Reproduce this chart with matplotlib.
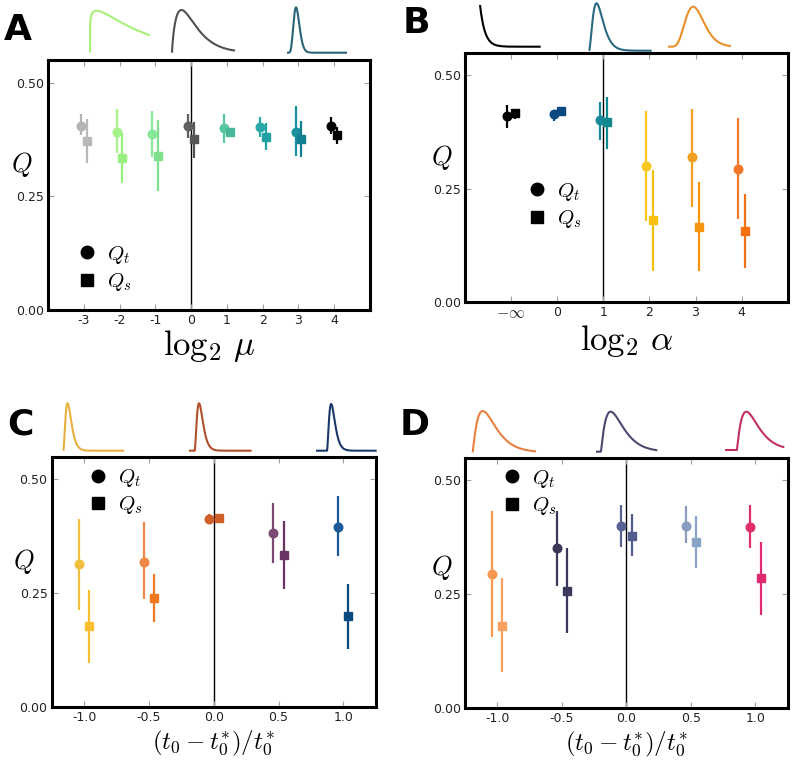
import matplotlib
matplotlib.use('Agg')
import matplotlib.pyplot as plt
import numpy as np
from matplotlib.lines import Line2D

plt.rcParams['mathtext.fontset'] = 'cm'
plt.rcParams['axes.unicode_minus'] = False
plt.rcParams['font.family'] = ['DejaVu Sans']

# ---------------- data ----------------
A_x = [-3, -2, -1, 0, 1, 2, 3, 4]
A_qt = [0.405, 0.392, 0.386, 0.404, 0.399, 0.402, 0.392, 0.404]
A_qt_lo = [0.385, 0.344, 0.337, 0.379, 0.367, 0.381, 0.338, 0.386]
A_qt_hi = [0.430, 0.443, 0.437, 0.431, 0.431, 0.425, 0.448, 0.425]
A_qs = [0.371, 0.334, 0.339, 0.375, 0.392, 0.381, 0.375, 0.384]
A_qs_lo = [0.322, 0.279, 0.262, 0.335, 0.385, 0.351, 0.337, 0.364]
A_qs_hi = [0.421, 0.388, 0.417, 0.414, 0.400, 0.412, 0.415, 0.403]
A_ticklabels = ['-3', '-2', '-1', '0', '1', '2', '3', '4']

B_x = [-1, 0, 1, 2, 3, 4]
B_qt = [0.411, 0.415, 0.401, 0.301, 0.320, 0.294]
B_qt_lo = [0.383, 0.400, 0.357, 0.180, 0.211, 0.183]
B_qt_hi = [0.434, 0.422, 0.442, 0.422, 0.427, 0.406]
B_qs = [0.417, 0.422, 0.397, 0.182, 0.166, 0.157]
B_qs_lo = [0.405, 0.412, 0.337, 0.070, 0.068, 0.075]
B_qs_hi = [0.425, 0.430, 0.453, 0.292, 0.266, 0.239]
B_ticklabels = [r'$-\infty$', '0', '1', '2', '3', '4']

C_x = [-1.0, -0.5, 0.0, 0.5, 1.0]
C_qt = [0.313, 0.319, 0.414, 0.382, 0.396]
C_qt_lo = [0.213, 0.238, 0.405, 0.317, 0.331]
C_qt_hi = [0.413, 0.406, 0.423, 0.448, 0.463]
C_qs = [0.177, 0.240, 0.415, 0.333, 0.199]
C_qs_lo = [0.097, 0.186, 0.405, 0.259, 0.128]
C_qs_hi = [0.257, 0.292, 0.425, 0.409, 0.270]

D_x = [-1.0, -0.5, 0.0, 0.5, 1.0]
D_qt = [0.294, 0.351, 0.400, 0.401, 0.399]
D_qt_lo = [0.156, 0.268, 0.354, 0.362, 0.352]
D_qt_hi = [0.434, 0.432, 0.446, 0.443, 0.447]
D_qs = [0.180, 0.257, 0.379, 0.366, 0.285]
D_qs_lo = [0.079, 0.165, 0.335, 0.309, 0.204]
D_qs_hi = [0.285, 0.351, 0.426, 0.423, 0.364]

CD_ticklabels = ['-1.0', '-0.5', '0.0', '0.5', '1.0']
Y_ticks = [0.0, 0.25, 0.5]
Y_ticklabels = ['0.00', '0.25', '0.50']

# inset distribution parameters (shape k, scale theta, shift) on a unit-width axis
A_ins = [(1.15, 0.733, 0.0), (1.8, 0.1875, 0.0), (10.0, 0.0167, 0.0)]
B_ins = [(1.0, 0.08, 0.0), (3.0, 0.06, 0.0), (8.0, 0.057, 0.0)]
C_ins = [(3.0, 0.035, 0.0), (3.0, 0.035, 0.09), (3.0, 0.035, 0.18)]
D_ins = [(2.1, 0.145, 0.0), (2.1, 0.145, 0.08), (2.1, 0.145, 0.20)]

# ---------------- styles ----------------
A_col_t = ['#b4b4b4', '#a6f28a', '#88e89a', '#606060', '#58c8a0', '#2aa8a8', '#1890a0', '#000000']
A_col_s = ['#b8b8b8', '#98f07e', '#7ee08e', '#555555', '#48b898', '#20a0a0', '#108090', '#000000']
B_col_t = ['#000000', '#0a4a80', '#1a8a9a', '#f8c820', '#f0a020', '#f07828']
B_col_s = ['#000000', '#0a4a80', '#108890', '#f8c010', '#f49410', '#f57010']
C_col_t = ['#f0c040', '#f08848', '#d06028', '#7a4a72', '#1a5a98']
C_col_s = ['#f8c030', '#f07820', '#d06028', '#6a3462', '#0a4880']
D_col_t = ['#f89850', '#3c3858', '#5a6494', '#8a9cc0', '#e0306c']
D_col_s = ['#f8a060', '#3a3a5c', '#505c8c', '#8aa4c8', '#e02a70']

A_ins_col = ['#a8f07a', '#505050', '#2a6478']
B_ins_col = ['#000000', '#2a6a80', '#e8902a']
C_ins_col = ['#e8b040', '#b0502a', '#1a3a6a']
D_ins_col = ['#e88040', '#4a4a70', '#c03060']

W, H = 793, 760
fig = plt.figure(figsize=(W / 100, H / 100), dpi=100)


def px_axes(l, r, t, b):
    return fig.add_axes([l / W, 1 - b / H, (r - l) / W, (b - t) / H])


def panel(rect, xs, qt, qlo, qhi, qs, slo, shi, ct, cs, off, xlim, vline,
          xticks, xticklabels, xlabel, xlabel_size, xlabel_pad, leg_anchor, ylab_pos):
    ax = px_axes(*rect)
    ax.axvline(vline, color='black', lw=1.0, zorder=1)
    for i, x in enumerate(xs):
        ax.errorbar(x - off, qt[i], yerr=[[qt[i] - qlo[i]], [qhi[i] - qt[i]]],
                    fmt='o', color=ct[i], mec=ct[i], ms=6.2, elinewidth=1.6,
                    capsize=0, zorder=3)
    for i, x in enumerate(xs):
        ax.errorbar(x + off, qs[i], yerr=[[qs[i] - slo[i]], [shi[i] - qs[i]]],
                    fmt='s', color=cs[i], mec=cs[i], ms=6.2, elinewidth=1.6,
                    capsize=0, zorder=4)
    ax.set_xlim(*xlim)
    ax.set_ylim(0, 0.55)
    ax.set_xticks(xticks)
    ax.set_xticklabels(xticklabels)
    ax.set_yticks(Y_ticks)
    ax.set_yticklabels(Y_ticklabels)
    ax.tick_params(direction='in', top=True, right=True, length=4, width=0.8,
                   color='#a0a0a0', labelcolor='#222222', labelsize=9, pad=3)
    for lbl in ax.get_xticklabels():
        if 'infty' in lbl.get_text():
            lbl.set_fontsize(11.5)
    for s in ax.spines.values():
        s.set_linewidth(2.2)
    ax.set_xlabel(xlabel, fontsize=xlabel_size, labelpad=xlabel_pad)
    ax.set_ylabel(r'$Q$', fontsize=19, rotation=0, ha='center', va='center')
    ax.yaxis.set_label_coords(*ylab_pos)
    handles = [Line2D([], [], ls='none', marker='o', color='black', ms=9),
               Line2D([], [], ls='none', marker='s', color='black', ms=9)]
    ax.legend(handles, [r'$Q_t$', r'$Q_s$'], loc='center left',
              bbox_to_anchor=leg_anchor, frameon=False, fontsize=15,
              handlelength=1.0, handletextpad=0.45, labelspacing=0.25,
              borderpad=0, borderaxespad=0)
    return ax


def insets(rects, params, cols):
    u = np.linspace(0, 1, 400)
    for (l, r, t, b), (k, th, sh), c in zip(rects, params, cols):
        ia = px_axes(l, r, t, b)
        z = np.clip(u - sh, 0, None) / th
        f = np.where(u > sh, z ** (k - 1) * np.exp(-z), 0.0)
        if k == 1.0:
            f = np.where(u >= sh, np.exp(-z), 0.0)
        f = f / f.max()
        ia.plot(u, f, color=c, lw=1.5, clip_on=False, solid_capstyle='butt')
        ia.set_xlim(0, 1)
        ia.set_ylim(0, 1)
        ia.axis('off')


panel((48, 370, 60, 309.5), A_x, A_qt, A_qt_lo, A_qt_hi, A_qs, A_qs_lo, A_qs_hi,
      A_col_t, A_col_s, 0.08, (-4, 5), 0, A_x, A_ticklabels,
      r'$\log_2\,\mu$', 25, 1, (0.09, 0.165), (-0.08, 0.58))
panel((465, 787.7, 52.7, 302.3), B_x, B_qt, B_qt_lo, B_qt_hi, B_qs, B_qs_lo, B_qs_hi,
      B_col_t, B_col_s, 0.08, (-2, 5), 1, B_x, B_ticklabels,
      r'$\log_2\,\alpha$', 25, 1, (0.19, 0.389), (-0.071, 0.58))
panel((51.7, 375.7, 456.7, 706.7), C_x, C_qt, C_qt_lo, C_qt_hi, C_qs, C_qs_lo, C_qs_hi,
      C_col_t, C_col_s, 0.04, (-1.25, 1.25), 0, C_x, CD_ticklabels,
      r'$(t_0-t_0^{*})/t_0^{*}$', 18, 3.5, (0.11, 0.861), (-0.087, 0.58))
panel((465, 787.7, 457.7, 708.3), D_x, D_qt, D_qt_lo, D_qt_hi, D_qs, D_qs_lo, D_qs_hi,
      D_col_t, D_col_s, 0.04, (-1.25, 1.25), 0, D_x, CD_ticklabels,
      r'$(t_0-t_0^{*})/t_0^{*}$', 18, 3, (0.113, 0.862), (-0.071, 0.56))

insets([(90, 150, 10.7, 52.7), (172, 235, 10, 52.7), (287, 347, 7.3, 52.7)], A_ins, A_ins_col)
insets([(480, 540.7, 5, 46.7), (589, 651.7, 3.3, 50.7), (668, 731, 6.7, 46.7)], B_ins, B_ins_col)
insets([(63.3, 124.3, 403.3, 450.7), (189, 251.7, 403.3, 450.7), (316, 376.7, 404, 450.7)], C_ins, C_ins_col)
insets([(472.7, 536, 411, 452.3), (596, 657.3, 411.7, 451.7), (725, 784.3, 411.7, 450)], D_ins, D_ins_col)

for lab, x, y in [('A', 4, 40), ('B', 403, 33), ('C', 7, 435), ('D', 400, 435)]:
    fig.text(x / W, 1 - y / H, lab, fontsize=26, fontweight='heavy',
             ha='left', va='baseline', family='DejaVu Sans')

fig.savefig('out.png', dpi=100)
